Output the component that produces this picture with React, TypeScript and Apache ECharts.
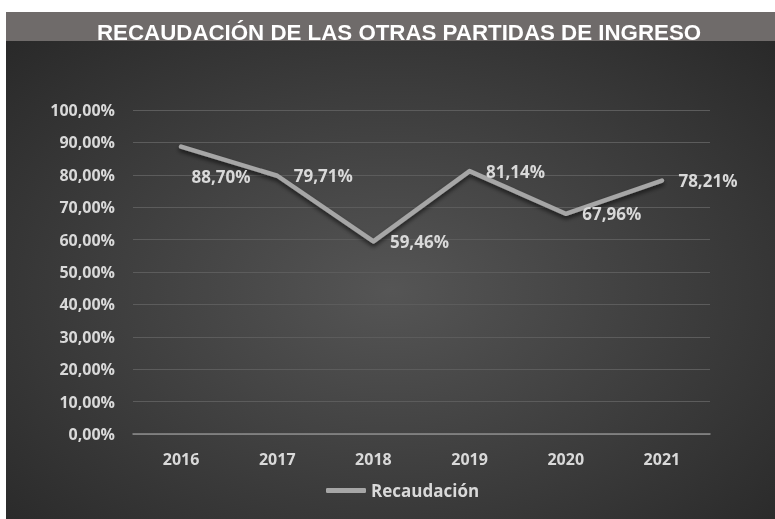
import React, { useEffect, useRef } from "react";
import * as echarts from "echarts";

const years = ["2016", "2017", "2018", "2019", "2020", "2021"];
const recaudacion = [88.7, 79.71, 59.46, 81.14, 67.96, 78.21];
const seriesName = "Recaudación";
const titleText = "RECAUDACIÓN DE LAS OTRAS PARTIDAS DE INGRESO";

const fmt = (v: number) => v.toFixed(2).replace(".", ",") + "%";

export default function App() {
  const ref = useRef<HTMLDivElement>(null);
  useEffect(() => {
    if (!ref.current) return;
    const chart = echarts.init(ref.current, undefined, { renderer: "svg" });
    const labelColor = "#d9d9d9";
    const font = "'Open Sans', Lato, sans-serif";
    chart.setOption({
      animation: false,
      backgroundColor: new echarts.graphic.RadialGradient(0.5, 0.55, 0.75, [
        { offset: 0, color: "#555555" },
        { offset: 1, color: "#262626" },
      ]),
      graphic: [
        {
          type: "rect",
          left: 0,
          top: 0,
          shape: { width: 769, height: 29 },
          style: { fill: "#6f6b6a" },
          z: 0,
        },
      ],
      title: {
        text: titleText,
        left: 86,
        top: 4,
        textStyle: {
          color: "#ffffff",
          fontFamily: "'Liberation Sans', Arial, sans-serif",
          fontWeight: "bold",
          fontSize: 22.3,
        },
      },
      legend: {
        data: [seriesName],
        bottom: 15,
        left: 315,
        icon: "roundRect",
        itemWidth: 40,
        itemHeight: 5,
        itemGap: 3,
        itemStyle: { color: "#a6a6a6" },
        textStyle: { color: labelColor, fontFamily: font, fontWeight: "bold", fontSize: 17 },
      },
      grid: { left: 127, right: 65, top: 98, bottom: 85 },
      xAxis: {
        type: "category",
        data: years,
        boundaryGap: true,
        axisLine: { lineStyle: { color: "#8c8c8c", width: 1.5 } },
        axisTick: { show: false },
        axisLabel: {
          color: labelColor,
          fontFamily: font,
          fontWeight: "bold",
          fontSize: 16,
          margin: 17,
        },
      },
      yAxis: {
        type: "value",
        min: 0,
        max: 100,
        interval: 10,
        axisLine: { show: false },
        axisTick: { show: false },
        splitLine: { lineStyle: { color: "#5c5c5c", width: 1 } },
        axisLabel: {
          color: labelColor,
          fontFamily: font,
          fontWeight: "bold",
          fontSize: 16,
          margin: 18,
          formatter: (v: number) => fmt(v),
        },
      },
      series: [
        {
          name: seriesName,
          type: "line",
          data: recaudacion.map((v, i) =>
            i === 0
              ? { value: v, label: { position: "right", offset: [-6, 30] } }
              : v
          ),
          symbol: "circle",
          symbolSize: 1,
          showSymbol: true,
          lineStyle: {
            color: "#a6a6a6",
            width: 4.5,
            cap: "round",
            join: "round",
            shadowColor: "rgba(0,0,0,0.6)",
            shadowBlur: 4,
            shadowOffsetY: 3,
          },
          itemStyle: { color: "#a6a6a6" },
          label: {
            show: true,
            position: "right",
            distance: 16,
            color: labelColor,
            fontFamily: font,
            fontWeight: "bold",
            fontSize: 17,
            formatter: (p: any) => fmt(p.value),
          },
        },
      ],
    });
    return () => chart.dispose();
  }, []);
  return (
    <div
      ref={ref}
      style={{ position: "fixed", left: 6, top: 12, width: 769, height: 507 }}
    />
  );
}
